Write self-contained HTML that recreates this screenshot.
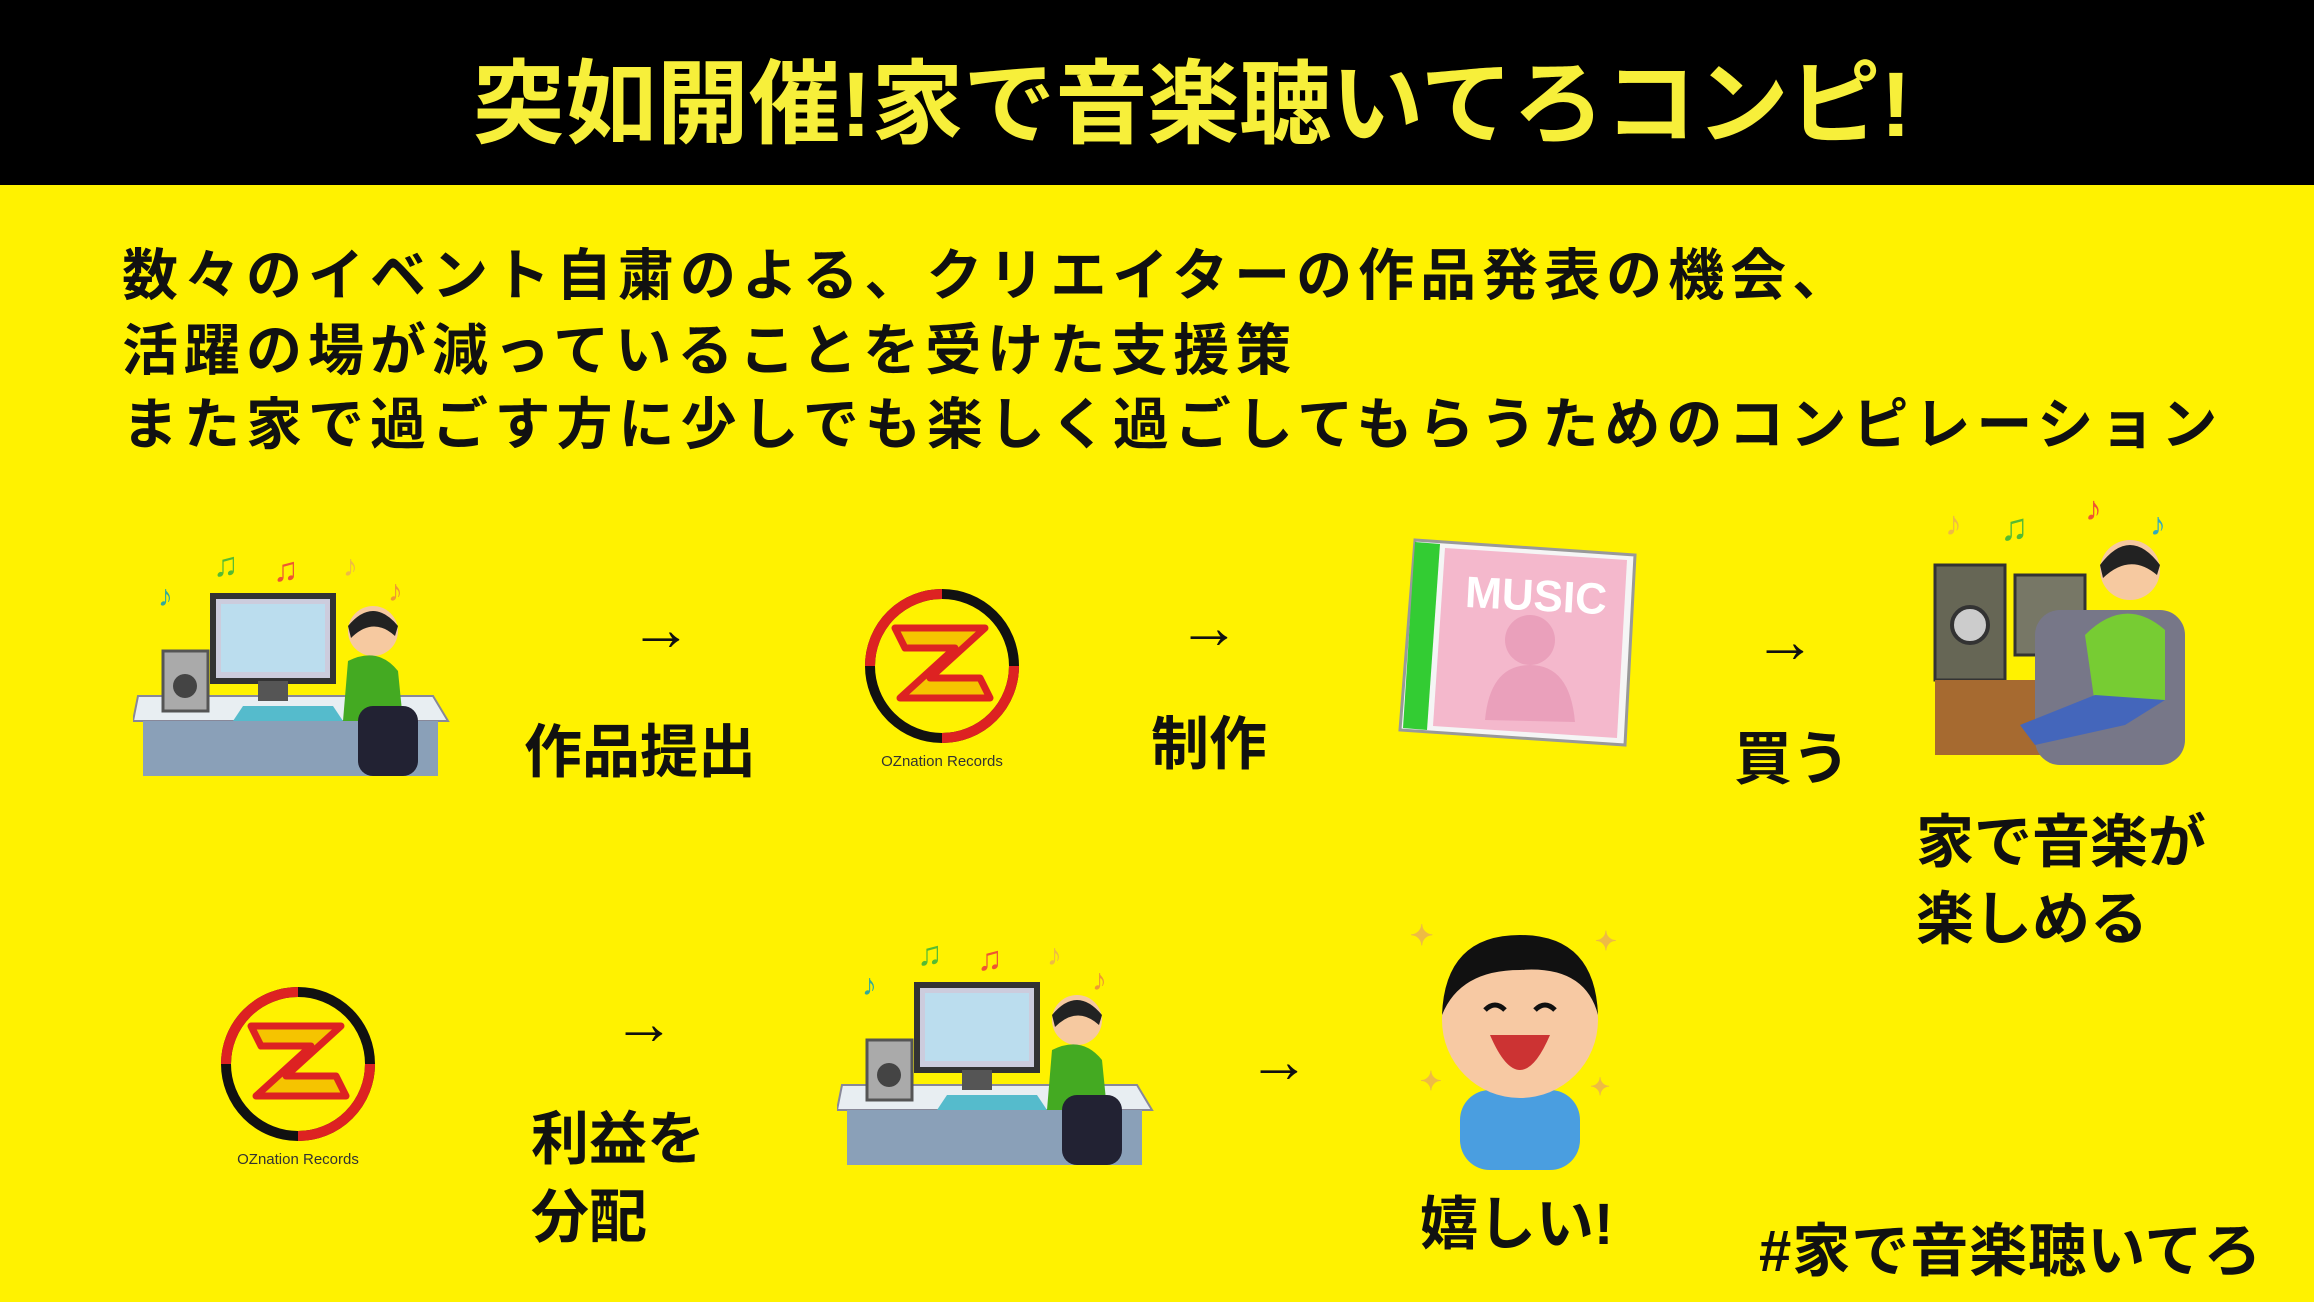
<!DOCTYPE html>
<html><head><meta charset="utf-8"><style>
html,body{margin:0;padding:0}
body{width:2314px;height:1302px;position:relative;overflow:hidden;background:#fff200;font-family:"Liberation Sans","Noto Sans CJK JP",sans-serif;font-weight:bold;color:#111}
.hdr{position:absolute;left:0;top:0;width:2314px;height:185px;background:#000}
.title{position:absolute;left:0;top:50px;width:2314px;box-sizing:border-box;padding-left:70px;text-align:center;color:#f7ef3a;font-size:92px;line-height:110px;letter-spacing:0px}
.p{position:absolute;left:122px;font-size:56px;line-height:70px;letter-spacing:6px;white-space:nowrap}
.t{position:absolute;font-size:58px;line-height:70px;white-space:nowrap}
.ar{position:absolute;font-size:62px;line-height:60px}
svg{position:absolute}
</style></head><body>
<div class="hdr"></div>
<div class="title">突如開催!家で音楽聴いてろコンピ!</div>
<div class="p" style="top:241px">数々のイベント自粛のよる、クリエイターの作品発表の機会、</div>
<div class="p" style="top:316px">活躍の場が減っていることを受けた支援策</div>
<div class="p" style="top:390px">また家で過ごす方に少しでも楽しく過ごしてもらうためのコンピレーション</div>

<svg width="0" height="0"><defs>
<g id="pc">
 <text x="25" y="60" font-size="30" fill="#3a9">♪</text><text x="80" y="30" font-size="34" fill="#5b3">♫</text><text x="140" y="35" font-size="34" fill="#e53">♫</text><text x="210" y="30" font-size="30" fill="#eb4">♪</text><text x="255" y="55" font-size="30" fill="#e93">♪</text>
 <polygon points="5,150 300,150 315,175 0,175" fill="#e8eef2" stroke="#889" stroke-width="2"/>
 <rect x="10" y="175" width="295" height="55" fill="#8aa0b8"/>
 <rect x="30" y="105" width="45" height="60" fill="#aaa" stroke="#555" stroke-width="3"/><circle cx="52" cy="140" r="12" fill="#444"/>
 <rect x="80" y="50" width="120" height="85" fill="#ccd" stroke="#333" stroke-width="6"/>
 <rect x="88" y="58" width="104" height="68" fill="#bde"/>
 <rect x="125" y="135" width="30" height="20" fill="#555"/>
 <polygon points="110,160 200,160 210,175 100,175" fill="#5bc" />
 <circle cx="240" cy="85" r="25" fill="#f6c9a0"/><path d="M215 80 Q240 50 265 80 L262 90 Q240 70 218 92Z" fill="#222"/>
 <path d="M215 115 Q245 100 265 125 L270 175 L210 175Z" fill="#4a2"/>
 <rect x="225" y="160" width="60" height="70" rx="15" fill="#223"/>
</g>
<g id="logo">
 <circle cx="82" cy="78" r="72" fill="none" stroke="#111" stroke-width="10"/>
 <path d="M10 78 A72 72 0 0 1 82 6" fill="none" stroke="#d22" stroke-width="10"/>
 <path d="M154 78 A72 72 0 0 1 82 150" fill="none" stroke="#d22" stroke-width="10"/>
 <path d="M35 40 H125 L70 90 H120 L130 110 H40 L95 60 H45Z" fill="#f5c400" stroke="#d22" stroke-width="7" stroke-linejoin="round"/>
 <text x="82" y="178" font-size="15" text-anchor="middle" fill="#333" font-weight="normal">OZnation Records</text>
</g>
</defs></svg>

<svg style="left:133px;top:546px" width="320" height="235"><use href="#pc"/></svg>
<div class="ar" style="left:630px;top:600px">→</div>
<div class="t" style="left:524px;top:718px">作品提出</div>
<svg style="left:860px;top:588px" width="175" height="185"><use href="#logo"/></svg>
<div class="ar" style="left:1178px;top:598px">→</div>
<div class="t" style="left:1151px;top:710px">制作</div>
<svg style="left:1395px;top:530px" width="250" height="220">
 <polygon points="20,10 240,25 230,215 5,200" fill="#f5f5f5" stroke="#999" stroke-width="3"/>
 <polygon points="20,12 45,14 32,200 8,198" fill="#3c3"/>
 <polygon points="50,18 232,30 222,208 38,196" fill="#f4b8cc"/>
 <text x="70" y="80" font-size="44" fill="#fff" font-family="Liberation Sans" transform="rotate(3 130 70)">MUSIC</text>
 <circle cx="135" cy="110" r="25" fill="#eaa0bb"/><path d="M90 190 Q95 135 135 135 Q175 135 180 192Z" fill="#eaa0bb"/>
</svg>
<div class="ar" style="left:1754px;top:612px">→</div>
<div class="t" style="left:1734px;top:725px">買う</div>
<svg style="left:1925px;top:490px" width="265" height="285">
 <text x="20" y="45" font-size="34" fill="#eb4">♪</text><text x="75" y="50" font-size="38" fill="#5b3">♫</text><text x="160" y="30" font-size="34" fill="#e53">♪</text><text x="225" y="45" font-size="32" fill="#3ab">♪</text>
 <rect x="10" y="75" width="70" height="115" fill="#665" stroke="#333" stroke-width="3"/><circle cx="45" cy="135" r="18" fill="#ccc" stroke="#333" stroke-width="4"/>
 <rect x="90" y="85" width="70" height="80" fill="#776" stroke="#333" stroke-width="3"/>
 <rect x="10" y="190" width="150" height="75" fill="#a66a30"/>
 <rect x="110" y="120" width="150" height="155" rx="25" fill="#778"/>
 <circle cx="205" cy="80" r="30" fill="#f6c9a0"/><path d="M175 75 Q205 35 235 75 L232 85 Q205 62 178 88Z" fill="#222"/>
 <path d="M160 145 Q200 105 240 140 L240 210 L170 215Z" fill="#7c3"/>
 <path d="M170 205 L240 210 L200 235 L110 255 L95 235Z" fill="#46b"/>
</svg>
<div class="t" style="left:1916px;top:808px">家で音楽が</div>
<div class="t" style="left:1916px;top:885px">楽しめる</div>

<svg style="left:216px;top:986px" width="175" height="185"><use href="#logo"/></svg>
<div class="ar" style="left:613px;top:994px">→</div>
<div class="t" style="left:531px;top:1105px">利益を</div>
<div class="t" style="left:531px;top:1183px">分配</div>
<svg style="left:837px;top:935px" width="320" height="235"><use href="#pc"/></svg>
<div class="ar" style="left:1248px;top:1032px">→</div>
<svg style="left:1405px;top:905px" width="225" height="265">
 <text x="5" y="40" font-size="28" fill="#eb4">✦</text><text x="190" y="45" font-size="26" fill="#eb4">✦</text><text x="15" y="185" font-size="26" fill="#eb4">✦</text><text x="185" y="190" font-size="24" fill="#eb4">✦</text>
 <rect x="55" y="185" width="120" height="80" rx="30" fill="#4a9ee0"/>
 <circle cx="115" cy="115" r="78" fill="#f7c9a3"/>
 <path d="M37 110 Q40 30 115 30 Q190 30 193 110 Q180 60 115 65 Q55 65 37 110Z" fill="#111"/>
 <path d="M80 105 Q90 95 100 105 M130 105 Q140 95 150 105" stroke="#111" stroke-width="5" fill="none"/>
 <path d="M85 130 Q115 200 145 130Z" fill="#c33"/>
</svg>
<div class="t" style="left:1420px;top:1190px">嬉しい!</div>
<div class="t" style="left:1759px;top:1217px;letter-spacing:1px">#家で音楽聴いてろ</div>
</body></html>
